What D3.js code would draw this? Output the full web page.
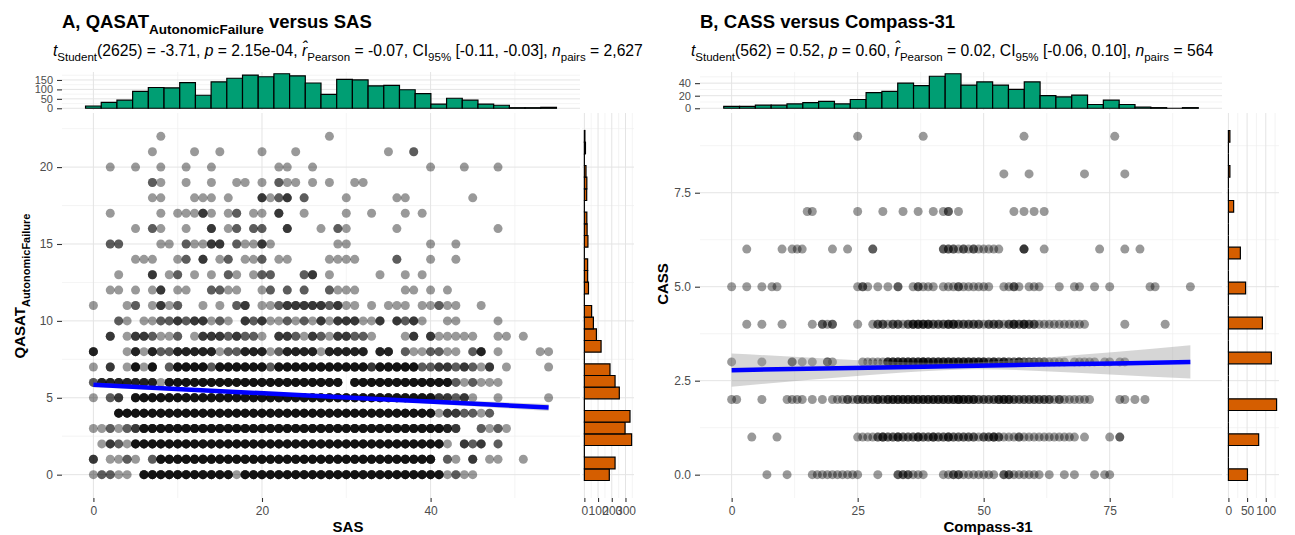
<!DOCTYPE html>
<html>
<head>
<meta charset="utf-8">
<script src="https://cdn.jsdelivr.net/npm/d3@7"></script>
<style>
  body { margin: 0; background: #fff; }
  svg text { font-family: "Liberation Sans", Arial, Helvetica, sans-serif; }
</style>
</head>
<body>
<svg id="chart" width="1295" height="535"></svg>
<script>
// ── data ────────────────────────────────────────────────────────────────
// scatter rows: string index = x value, digit = number of participants at (x, y)
// panel A: one string per QASAT_AutonomicFailure value (0..22), x = SAS 0..54
const qasatRows = [
  "1221105555 5555555155 5555555555 5555555555 5512110000 00000", // 0
  "3011210255 5555555555 5555555555 5555555555 5021030110 01000", // 1
  "0132155555 5555555555 5555555555 5555555555 5510323020 00000", // 2
  "1121235555 5555555555 5555555555 5555555555 5543002121 00000", // 3
  "0005555555 5555555555 5555555555 5555555555 5133221200 00000", // 4
  "1023055555 5555555555 5555555555 5555555555 5332310010 00001", // 5
  "2444444415 5555555555 5555555555 0555555555 5552121110 00000", // 6
  "1030151502 5555255555 5255555555 5553555552 2332321301 00001", // 7
  "4000141422 4444412244 4124444144 4440440211 2211024010 00011", // 8
  "0030133211 2013332322 1033213213 3221000130 3111110011 01000", // 9
  "0002101122 3233121032 3112121313 3311303231 0011000010 00000", // 10
  "1000120131 2001010230 1123333323 1101011101 1211001000 00000", // 11
  "0011010130 1100221100 1202020021 1100000110 1010000000 00000", // 12
  "0001000301 2010102101 2200023010 0000100101 0000000000 00000", // 13
  "0000011100 1203012011 2011000011 1100002000 1001000000 00000", // 14
  "0022000011 0211330211 3100000001 1000000000 1001000000 00000", // 15
  "0000010210 0100301202 2003000102 1000001000 0000000010 00000", // 16
  "0010000010 1113101201 1030010000 1001000101 0000000000 00000", // 17
  "0000000110 0011101000 3123020000 1000001100 0000010000 00000", // 18
  "0000000210 0100100110 1021101010 0110000000 0000000000 00000", // 19
  "0010010010 0100100000 0011001000 0000000000 1000100010 00000", // 20
  "0000000100 0010010000 1000100000 0000010020 0000000000 00000", // 21
  "0000000010 0000000000 0000000010 0000000000 0000000000 00000"  // 22
];
// panel B: one string per CASS value (0..9), x = Compass-31 0..92
const cassRows = [
  "0000000100 0100001111 1111110001 0002221110 0011221111 1110221111 1101001010 0010110000 0000000000 000", // 0
  "0000100001 0000000000 0000011112 3223222322 3223222221 2232111211 1111111110 1000010200 0000000000 000", // 1
  "1100001000 0111101010 1112122223 2333333333 3333343332 2223332222 2222121111 1100000110 1010000000 000", // 2
  "1000001000 0020101002 1000001111 1333333343 3333333333 3232322322 2221111011 1110110110 0000000000 000", // 3
  "0001001000 1000001021 2000010012 2122123333 2223322222 1222123232 2111111111 1000000010 0000001000 000", // 4
  "1001001011 0000000000 0000012101 0102001211 1011121111 1100112101 1100010011 0010010000 0001100000 010", // 5
  "0001000000 1011100000 1001000020 0000000000 0022212121 1111000030 0010000000 0001000010 0100000000 000", // 6
  "0000000000 0000011000 0000010000 1000100100 1012010000 0000001010 1010000000 0000000000 0000000000 000", // 7
  "0000000000 0000000000 0000000000 0000000000 0000000000 0000100001 0000000000 1000000010 0000000000 000", // 8
  "0000000000 0000000000 0000010000 0000000010 0000000000 0000000010 0000000000 0000001000 0000000000 000"  // 9
];

// top marginal histograms (30 bins each)
const sasHist     = [12, 31, 43, 90, 110, 108, 136, 69, 140, 159, 176, 167, 183, 172, 134,
                     74, 153, 150, 119, 121, 98, 78, 22, 53, 43, 22, 16, 3, 3, 5];
const compassHist = [3, 3, 5, 5, 7, 9, 11, 7, 14, 25, 27, 40, 36, 51, 55,
                     37, 42, 37, 30, 42, 20, 18, 21, 6, 13, 6, 2, 1, 0, 1];
// right marginal histograms: count per y value
const qasatCounts = [182, 224, 345, 297, 333, 255, 224, 187, 122, 88, 66, 53,
                     30, 24, 24, 26, 20, 18, 17, 18, 12, 8, 4];
const cassCounts  = [51, 81, 129, 115, 91, 46, 32, 14, 4, 4];

// regression fits (x, fitted y, half width of the 95% band)
const fitSasX  = [0, 11, 22, 33, 44, 54];
const fitSasY  = [5.84, 5.54, 5.24, 4.94, 4.64, 4.37];
const fitSasCI = [0.15, 0.10, 0.08, 0.10, 0.16, 0.23];
const fitCompassX  = [0, 15, 30, 46, 61, 76, 91];
const fitCompassY  = [2.78, 2.82, 2.85, 2.89, 2.93, 2.96, 3.00];
const fitCompassCI = [0.44, 0.30, 0.17, 0.09, 0.17, 0.30, 0.44];

// ticks
const sasTicks = [0, 20, 40],            sasMinor = [10, 30, 50];
const qasatTicks = [0, 5, 10, 15, 20],   qasatMinor = [2.5, 7.5, 12.5, 17.5, 22.5];
const sasHistTicks = [0, 50, 100, 150],  sasHistMinor = [25, 75, 125, 175];
const qasatHistTicks = [0, 100, 200, 300], qasatHistMinor = [50, 150, 250, 350];
const compassTicks = [0, 25, 50, 75],    compassMinor = [12.5, 37.5, 62.5, 87.5];
const cassTicks = [0, 2.5, 5, 7.5],      cassMinor = [1.25, 3.75, 6.25, 8.75];
const compassHistTicks = [0, 20, 40],    compassHistMinor = [10, 30, 50];
const cassHistTicks = [0, 50, 100],      cassHistMinor = [25, 75, 125];

// ── geometry ────────────────────────────────────────────────────────────
const NBINS = 30;
const MAIN = { top: 113, bottom: 498 };
const TOP  = { top: 72, bottom: 110 };

const svg = d3.select("#chart");

const expand = ([a, b]) => [a - 0.05 * (b - a), b + 0.05 * (b - a)];
const within = (s, v) => v >= d3.min(s.domain()) && v <= d3.max(s.domain());

// text with italic / subscript pieces
function richText(parent, x, y, parts, size, subSize, weight, rotate) {
  const t = parent.append("text")
    .attr("x", x).attr("y", y)
    .attr("fill", "#000")
    .style("font-size", size + "px")
    .style("font-weight", weight || "normal");
  if (rotate) t.attr("transform", `rotate(-90,${x},${y})`).attr("text-anchor", "middle");
  const shift = Math.round(size * 0.3);
  let down = false;
  parts.forEach(([txt, st]) => {
    const s = t.append("tspan").text(txt);
    const sub = st.includes("s");
    if (sub && !down) { s.attr("dy", shift); down = true; }
    else if (!sub && down) { s.attr("dy", -shift); down = false; }
    s.style("font-size", (sub ? subSize : size) + "px");
    if (st.includes("i")) s.style("font-style", "italic");
  });
  return t;
}

function styleAxis(a, fs) {
  a.select(".domain").remove();
  a.selectAll("line").attr("stroke", "#333").attr("stroke-width", 1.1);
  a.selectAll("text").attr("fill", "#4d4d4d").style("font-size", (fs || 12) + "px");
}

function drawPanel(p) {
  const g = svg.append("g");

  // points from the row strings
  const pts = [];
  p.rows.forEach((row, yi) => {
    row.replace(/ /g, "").split("").forEach((c, xi) => {
      for (let k = 0; k < +c; k++) pts.push({ x: xi, y: yi });
    });
  });

  const xMax = d3.max(pts, d => d.x), yMax = d3.max(pts, d => d.y);
  const wx = xMax / (NBINS - 1), wy = yMax / (NBINS - 1);

  const x = d3.scaleLinear().domain(expand([-wx / 2, xMax + wx / 2])).range([p.left, p.right]);
  const y = d3.scaleLinear().domain(expand([-wy / 2, yMax + wy / 2])).range([MAIN.bottom, MAIN.top]);
  const yTop = d3.scaleLinear().domain(expand([0, d3.max(p.topCounts)])).range([TOP.bottom, TOP.top]);

  const sideCounts = new Array(NBINS).fill(0);
  p.levelCounts.forEach((c, v) => { sideCounts[Math.ceil(v / wy - 0.5 - 1e-9)] += c; });
  const xSide = d3.scaleLinear().domain(expand([0, d3.max(sideCounts)])).range([p.rLeft, p.rRight]);

  // ── grid ──
  const grid = g.append("g");
  function vLines(vals, s, y0, y1, major) {
    grid.selectAll(null).data(vals.filter(v => within(s, v))).enter().append("line")
      .attr("x1", d => s(d)).attr("x2", d => s(d)).attr("y1", y0).attr("y2", y1)
      .attr("stroke", major ? "#e4e4e4" : "#efefef").attr("stroke-width", major ? 1 : 0.7);
  }
  function hLines(vals, s, x0, x1, major) {
    grid.selectAll(null).data(vals.filter(v => within(s, v))).enter().append("line")
      .attr("y1", d => s(d)).attr("y2", d => s(d)).attr("x1", x0).attr("x2", x1)
      .attr("stroke", major ? "#e4e4e4" : "#efefef").attr("stroke-width", major ? 1 : 0.7);
  }
  // main
  vLines(p.xMinor, x, MAIN.top, MAIN.bottom, false);
  hLines(p.yMinor, y, p.left, p.right, false);
  vLines(p.xTicks, x, MAIN.top, MAIN.bottom, true);
  hLines(p.yTicks, y, p.left, p.right, true);
  // top hist
  vLines(p.xMinor, x, TOP.top, TOP.bottom, false);
  hLines(p.topMinor, yTop, p.left, p.right, false);
  vLines(p.xTicks, x, TOP.top, TOP.bottom, true);
  hLines(p.topTicks, yTop, p.left, p.right, true);
  // side hist
  vLines(p.sideMinor, xSide, MAIN.top, MAIN.bottom, false);
  hLines(p.yMinor, y, p.rLeft, p.rRight, false);
  vLines(p.sideTicks, xSide, MAIN.top, MAIN.bottom, true);
  hLines(p.yTicks, y, p.rLeft, p.rRight, true);

  // ── points ──
  g.append("g").selectAll("circle").data(pts).enter().append("circle")
    .attr("cx", d => x(d.x)).attr("cy", d => y(d.y)).attr("r", 4.5)
    .attr("fill", "#000").attr("fill-opacity", 0.4);

  // ── smooth ──
  const fit = p.fitX.map((v, i) => ({ x: v, y: p.fitY[i], ci: p.fitCI[i] }));
  g.append("path").datum(fit)
    .attr("d", d3.area().curve(d3.curveNatural)
      .x(d => x(d.x)).y0(d => y(d.y - d.ci)).y1(d => y(d.y + d.ci)))
    .attr("fill", "#999").attr("fill-opacity", 0.4);
  g.append("path").datum(fit)
    .attr("d", d3.line().x(d => x(d.x)).y(d => y(d.y)))
    .attr("fill", "none").attr("stroke", "#0000ff").attr("stroke-width", 4.5);

  // ── top histogram ──
  g.append("g").selectAll("path").data(p.topCounts).enter().append("path")
    .attr("d", (c, i) => {
      const x0 = x((i - 0.5) * wx), x1 = x((i + 0.5) * wx);
      return `M${x0},${yTop(0)}V${yTop(c)}H${x1}V${yTop(0)}Z`;
    })
    .attr("fill", "#009E73").attr("stroke", "#000").attr("stroke-width", 1.2);

  // ── side histogram ──
  g.append("g").selectAll("path").data(sideCounts).enter().append("path")
    .attr("d", (c, i) => {
      const y0 = y((i - 0.5) * wy), y1 = y((i + 0.5) * wy);
      return `M${xSide(0)},${y0}H${xSide(c)}V${y1}H${xSide(0)}Z`;
    })
    .attr("fill", "#D55E00").attr("stroke", "#000").attr("stroke-width", 1.2);

  // ── axes ──
  const ax = g.append("g").attr("transform", `translate(0,${MAIN.bottom})`)
    .call(d3.axisBottom(x).tickValues(p.xTicks).tickSize(4).tickPadding(4).tickFormat(d3.format("d")));
  styleAxis(ax);
  const axS = g.append("g").attr("transform", `translate(0,${MAIN.bottom})`)
    .call(d3.axisBottom(xSide).tickValues(p.sideTicks).tickSize(4).tickPadding(4).tickFormat(d3.format("d")));
  styleAxis(axS);
  const ay = g.append("g").attr("transform", `translate(${p.left},0)`)
    .call(d3.axisLeft(y).tickValues(p.yTicks).tickSize(5).tickPadding(4).tickFormat(p.yFormat));
  styleAxis(ay);
  const ayT = g.append("g").attr("transform", `translate(${p.left},0)`)
    .call(d3.axisLeft(yTop).tickValues(p.topTicks).tickSize(5).tickPadding(4).tickFormat(d3.format("d")));
  styleAxis(ayT, 11);

  // ── titles ──
  richText(g, p.titleX, 28, p.title, 18.5, 13.5, "bold");
  richText(g, p.subX, 56, p.subtitle, 15.7, 11.5, "normal");
  richText(g, p.xLabelX, 532, p.xLabel, 15, 11, "bold").attr("text-anchor", "middle");
  richText(g, p.yLabelX, p.yLabelY, p.yLabel, 15, 11, "bold", true);
}

drawPanel({
  rows: qasatRows, topCounts: sasHist, levelCounts: qasatCounts,
  left: 62, right: 580, rLeft: 582, rRight: 634,
  xTicks: sasTicks, xMinor: sasMinor, yTicks: qasatTicks, yMinor: qasatMinor,
  topTicks: sasHistTicks, topMinor: sasHistMinor, sideTicks: qasatHistTicks, sideMinor: qasatHistMinor,
  fitX: fitSasX, fitY: fitSasY, fitCI: fitSasCI,
  yFormat: d3.format("d"),
  titleX: 62, subX: 53, xLabelX: 348, yLabelX: 25, yLabelY: 286,
  title: [["A, QASAT", ""], ["AutonomicFailure", "s"], [" versus SAS", ""]],
  subtitle: [["t", "i"], ["Student", "s"], ["(2625) = -3.71, ", ""], ["p", "i"], [" = 2.15e-04, ", ""],
             ["r\u0302", "i"], ["Pearson", "s"], [" = -0.07, CI", ""], ["95%", "s"],
             [" [-0.11, -0.03], ", ""], ["n", "i"], ["pairs", "s"], [" = 2,627", ""]],
  xLabel: [["SAS", ""]],
  yLabel: [["QASAT", ""], ["AutonomicFailure", "s"]]
});

drawPanel({
  rows: cassRows, topCounts: compassHist, levelCounts: cassCounts,
  left: 700, right: 1222, rLeft: 1226, rRight: 1279,
  xTicks: compassTicks, xMinor: compassMinor, yTicks: cassTicks, yMinor: cassMinor,
  topTicks: compassHistTicks, topMinor: compassHistMinor, sideTicks: cassHistTicks, sideMinor: cassHistMinor,
  fitX: fitCompassX, fitY: fitCompassY, fitCI: fitCompassCI,
  yFormat: d3.format(".1f"),
  titleX: 700, subX: 691, xLabelX: 988, yLabelX: 668, yLabelY: 284,
  title: [["B, CASS versus Compass-31", ""]],
  subtitle: [["t", "i"], ["Student", "s"], ["(562) = 0.52, ", ""], ["p", "i"], [" = 0.60, ", ""],
             ["r\u0302", "i"], ["Pearson", "s"], [" = 0.02, CI", ""], ["95%", "s"],
             [" [-0.06, 0.10], ", ""], ["n", "i"], ["pairs", "s"], [" = 564", ""]],
  xLabel: [["Compass-31", ""]],
  yLabel: [["CASS", ""]]
});
</script>
</body>
</html>
